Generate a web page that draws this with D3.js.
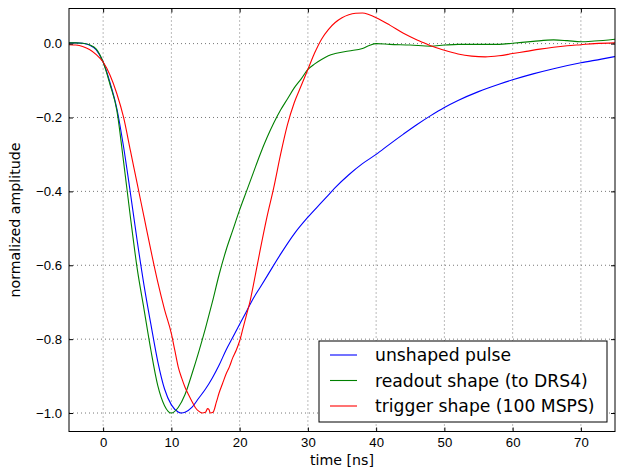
<!DOCTYPE html>
<html>
<head>
<meta charset="utf-8">
<script src="https://cdn.jsdelivr.net/npm/d3@7"></script>
<style>
  body { margin: 0; background: #fff; }
  svg { display: block; font-family: "DejaVu Sans", sans-serif; }
  .tick text { font-size: 13.2px; fill: #000; }
  .grid line { stroke: #777; stroke-width: 1; stroke-dasharray: 1,3; }
</style>
</head>
<body>
<svg width="624" height="476"></svg>
<script>
// unshaped pulse
const tBlue = [-5, -4, -3, -2, -1, 0, 1, 2, 3, 4, 5, 6, 7, 8, 9, 10, 11, 11.5, 12, 13, 14, 15, 16, 17, 18, 19, 20,
  21, 22, 23, 24, 26, 28, 30, 32, 33, 34, 36, 38, 40, 42, 44, 46, 48, 50, 52, 55, 58, 60, 63, 66, 70, 73, 75];
const vBlue = [0.002, 0.002, 0.001, -0.004, -0.017, -0.05, -0.105, -0.175, -0.28, -0.405, -0.535, -0.655, -0.76,
  -0.86, -0.935, -0.978, -0.997, -1.0, -0.998, -0.985, -0.96, -0.935, -0.905, -0.87, -0.83, -0.795, -0.76,
  -0.725, -0.69, -0.66, -0.63, -0.57, -0.515, -0.47, -0.43, -0.41, -0.39, -0.355, -0.325, -0.3, -0.272, -0.245,
  -0.219, -0.195, -0.173, -0.154, -0.13, -0.11, -0.098, -0.082, -0.068, -0.052, -0.042, -0.035];

// readout shape (to DRS4)
const tGreen = [-5, -4, -3, -2, -1, 0, 1, 2, 3, 4, 5, 6, 7, 8, 9, 10, 11, 12, 13, 14, 15, 16, 17, 18, 19, 20,
  21, 22, 23, 24, 25, 26, 27, 28, 29, 30, 31, 32, 33, 34, 36, 38, 39, 40, 42, 45, 48, 50, 52, 55, 58, 60, 63,
  66, 68, 70, 72, 75];
const vGreen = [0.002, 0.002, 0.001, -0.003, -0.015, -0.05, -0.11, -0.18, -0.32, -0.47, -0.61, -0.72, -0.83,
  -0.925, -0.98, -1.0, -0.985, -0.95, -0.895, -0.835, -0.77, -0.7, -0.625, -0.56, -0.505, -0.45,
  -0.4, -0.35, -0.3, -0.255, -0.215, -0.18, -0.15, -0.12, -0.096, -0.07, -0.055, -0.043, -0.033, -0.027,
  -0.02, -0.013, -0.005, 0.0, -0.002, -0.004, -0.007, -0.004, -0.002, -0.002, -0.002, 0.001, 0.006,
  0.01, 0.008, 0.005, 0.007, 0.012];

// trigger shape (100 MSPS)
const tRed = [-5, -4, -3, -2, -1, 0, 1, 2, 3, 4, 5, 6, 7, 8, 9, 10, 10.5, 11, 11.5, 12, 12.5, 13, 13.5, 14,
  14.5, 15, 15.3, 15.5, 15.7, 16.1, 16.6, 17, 17.5, 18, 18.5, 19, 19.5, 20, 20.5, 21, 21.5, 22, 23, 24, 25, 26,
  27, 28, 29, 30, 31, 32, 33, 34, 35, 36, 37, 38, 39, 40, 42, 44, 46, 47, 48, 50, 52, 54, 56, 58, 60, 62, 64,
  66, 68, 70, 72, 75];
const vRed = [-0.003, -0.004, -0.008, -0.016, -0.03, -0.05, -0.085, -0.135, -0.2, -0.29, -0.38, -0.47, -0.56,
  -0.645, -0.72, -0.785, -0.83, -0.875, -0.905, -0.93, -0.95, -0.968, -0.985, -0.995,
  -1.0, -0.998, -0.988, -0.99, -1.0, -0.998, -0.97, -0.945, -0.92, -0.895, -0.875, -0.85, -0.83, -0.805,
  -0.77, -0.735, -0.7, -0.655, -0.56, -0.47, -0.39, -0.3,
  -0.22, -0.16, -0.115, -0.07, -0.025, 0.012, 0.038, 0.057, 0.07, 0.078, 0.082, 0.083, 0.078, 0.07, 0.05,
  0.028, 0.01, 0.002, -0.006, -0.018, -0.028, -0.034, -0.036, -0.033, -0.027, -0.021, -0.015,
  -0.01, -0.006, -0.003, 0, 0.002];

const xTicks = [0, 10, 20, 30, 40, 50, 60, 70];
const yTicks = [0, -0.2, -0.4, -0.6, -0.8, -1.0];
const seriesNames = ['unshaped pulse', 'readout shape (to DRS4)', 'trigger shape (100 MSPS)'];
const seriesColors = ['#0000ff', '#008000', '#ff0000'];

const series = [
  tBlue.map((t, i) => ({ t, v: vBlue[i] })),
  tGreen.map((t, i) => ({ t, v: vGreen[i] })),
  tRed.map((t, i) => ({ t, v: vRed[i] }))
];

const svg = d3.select('svg');
const margin = { top: 8.5, right: 9, bottom: 44.5, left: 69 };
const width = +svg.attr('width') - margin.left - margin.right;
const height = +svg.attr('height') - margin.top - margin.bottom;

const x = d3.scaleLinear().domain([-5, 75]).range([0, width]);
const y = d3.scaleLinear().domain([-1.05, 0.095]).range([height, 0]);

const g = svg.append('g').attr('transform', `translate(${margin.left},${margin.top})`);

// grid
const grid = g.append('g').attr('class', 'grid');
grid.selectAll('.gx').data(xTicks).enter().append('line')
  .attr('x1', d => x(d)).attr('x2', d => x(d)).attr('y1', 0).attr('y2', height);
grid.selectAll('.gy').data(yTicks).enter().append('line')
  .attr('y1', d => y(d)).attr('y2', d => y(d)).attr('x1', 0).attr('x2', width);

// lines
const line = d3.line().x(d => x(d.t)).y(d => y(d.v)).curve(d3.curveMonotoneX);
g.selectAll('.series').data(series).enter().append('path')
  .attr('d', line)
  .attr('fill', 'none')
  .attr('stroke', (d, i) => seriesColors[i])
  .attr('stroke-width', 1.1);

// axes, ticks pointing inward
const fmt = d3.format('.1f');
const axBottom = g.append('g').attr('transform', `translate(0,${height})`)
  .call(d3.axisBottom(x).tickValues(xTicks).tickSize(-4).tickPadding(6));
const axTop = g.append('g').call(d3.axisTop(x).tickValues(xTicks).tickSize(-4).tickFormat(''));
const axLeft = g.append('g').call(d3.axisLeft(y).tickValues(yTicks).tickSize(-4).tickPadding(7).tickFormat(fmt));
const axRight = g.append('g').attr('transform', `translate(${width},0)`)
  .call(d3.axisRight(y).tickValues(yTicks).tickSize(-4).tickFormat(''));
[axBottom, axTop, axLeft, axRight].forEach(a => a.select('.domain').remove());

g.append('rect')
  .attr('width', width).attr('height', height)
  .attr('fill', 'none').attr('stroke', '#000').attr('stroke-width', 1);

// axis labels
svg.append('text')
  .attr('x', margin.left + width / 2).attr('y', 465)
  .attr('text-anchor', 'middle').attr('font-size', 14.2)
  .text('time [ns]');
svg.append('text')
  .attr('transform', `translate(20,${margin.top + height / 2}) rotate(-90)`)
  .attr('text-anchor', 'middle').attr('font-size', 14.2)
  .text('normalized amplitude');

// legend
const legend = svg.append('g').attr('transform', 'translate(319,341)');
legend.append('rect')
  .attr('width', 288).attr('height', 81)
  .attr('fill', '#fff').attr('stroke', '#000').attr('stroke-width', 1);
const items = legend.selectAll('.item').data(seriesNames).enter().append('g')
  .attr('transform', (d, i) => `translate(0,${14 + i * 25.5})`);
items.append('line')
  .attr('x1', 11).attr('x2', 38)
  .attr('stroke', (d, i) => seriesColors[i]).attr('stroke-width', 1.1);
items.append('text')
  .attr('x', 56).attr('dy', '0.35em')
  .attr('font-size', 17.2)
  .text(d => d);
</script>
</body>
</html>
